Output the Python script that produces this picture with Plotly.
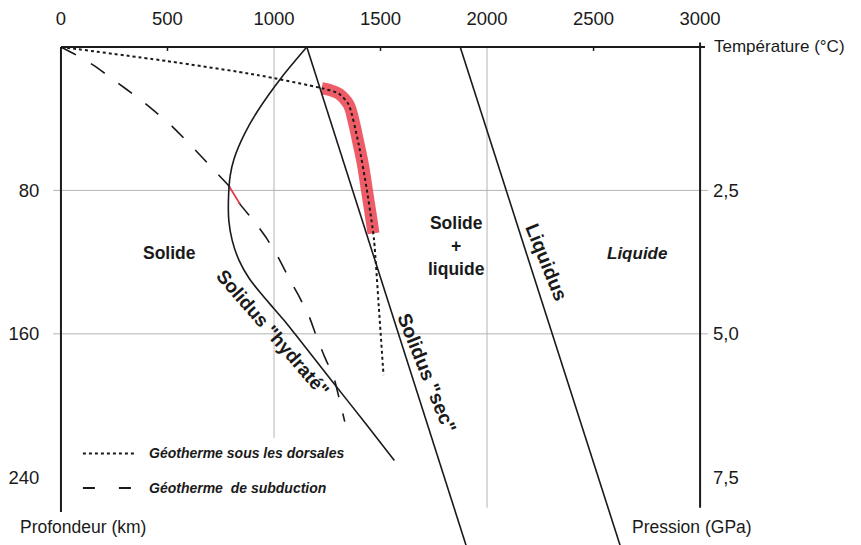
import plotly.graph_objects as go

# ---------------- data ----------------
temp_ticks = [0, 500, 1000, 1500, 2000, 2500, 3000]
temp_labels = ["0", "500", "1000", "1500", "2000", "2500", "3000"]
depth_ticks = [80, 160, 240]
depth_labels = ["80", "160", "240"]
pressure_labels = ["2,5", "5,0", "7,5"]

# Geotherm under ridges (dotted)
dorsal_T = [0, 500, 921, 1224, 1304, 1350, 1397, 1435, 1458, 1470, 1492, 1514]
dorsal_depth = [0, 7.9, 15.6, 23, 26, 32, 54, 79, 97, 108, 145, 183]

# Partial melting zone along the ridge geotherm (red)
melt_T = [1224, 1262, 1304, 1350, 1375, 1397, 1418, 1435, 1452, 1467]
melt_depth = [23, 24, 26, 32, 42, 54, 66, 79, 92, 104]

# Subduction geotherm (dashed)
sub_T = [0, 70, 150, 229, 304, 374, 453, 523, 593, 659, 724, 790, 841, 907,
         967, 1023, 1070, 1117, 1164, 1201, 1238, 1280, 1308, 1332]
sub_depth = [0, 4.4, 10, 16.7, 23.3, 29.4, 37.2, 44.4, 52.8, 61.1, 69.4, 77.8, 87.8, 97.2,
             107, 118, 129, 139, 150, 162, 173, 184, 197, 209]

# Melting point on subduction geotherm (red)
sub_melt_T = [790, 841]
sub_melt_depth = [77.8, 87.8]

# Hydrated solidus
hyd_T = [1154, 1037, 921, 860, 813, 794, 786, 788, 804, 836, 883, 935, 1000, 1051, 1098, 1270, 1430, 1565]
hyd_depth = [0, 16.7, 36.1, 48.9, 62.2, 72, 86, 97, 108, 119, 129, 137, 146, 153, 160, 186, 210, 230.6]

# Dry solidus
dry_T = [1154, 1907]
dry_depth = [0, 280]

# Liquidus
liq_T = [1874, 2630]
liq_depth = [0, 280]

FONT = "Liberation Sans, Arial, sans-serif"
INK = "#1a1a1a"
GRID = "#b4b4b4"

fig = go.Figure()

fig.add_trace(go.Scatter(x=melt_T, y=melt_depth, mode="lines",
                         line=dict(color="rgba(236,78,90,0.92)", width=12, shape="spline"),
                         hoverinfo="skip", showlegend=False))
fig.add_trace(go.Scatter(x=dorsal_T, y=dorsal_depth, mode="lines",
                         line=dict(color=INK, width=2, dash="3px,3px", shape="spline", smoothing=0.6),
                         hoverinfo="skip", showlegend=False))
fig.add_trace(go.Scatter(x=sub_T, y=sub_depth, mode="lines",
                         line=dict(color=INK, width=1.6, dash="17px,17px", shape="spline", smoothing=0.5),
                         hoverinfo="skip", showlegend=False))
fig.add_trace(go.Scatter(x=sub_melt_T, y=sub_melt_depth, mode="lines",
                         line=dict(color="#e8394a", width=1.8),
                         hoverinfo="skip", showlegend=False))
fig.add_trace(go.Scatter(x=hyd_T, y=hyd_depth, mode="lines",
                         line=dict(color=INK, width=1.6, shape="spline", smoothing=0.7),
                         hoverinfo="skip", showlegend=False))
fig.add_trace(go.Scatter(x=dry_T, y=dry_depth, mode="lines",
                         line=dict(color=INK, width=1.6),
                         hoverinfo="skip", showlegend=False))
fig.add_trace(go.Scatter(x=liq_T, y=liq_depth, mode="lines", yaxis="y2",
                         line=dict(color=INK, width=1.6),
                         hoverinfo="skip", showlegend=False))

shapes = []
# gridlines
for d in depth_ticks[:2]:
    shapes.append(dict(type="line", xref="x", yref="y", x0=-37, x1=3037, y0=d, y1=d,
                       line=dict(color=GRID, width=1), layer="below"))
shapes.append(dict(type="line", xref="x", yref="y", x0=1000, x1=1000, y0=0, y1=218,
                   line=dict(color=GRID, width=1), layer="below"))
shapes.append(dict(type="line", xref="x", yref="y", x0=2000, x1=2000, y0=0, y1=257,
                   line=dict(color=GRID, width=1), layer="below"))
# axis frame
shapes.append(dict(type="line", xref="x", yref="y", x0=0, x1=3023, y0=0, y1=0,
                   line=dict(color=INK, width=2)))
shapes.append(dict(type="line", xref="x", yref="y", x0=0, x1=0, y0=0, y1=259.4,
                   line=dict(color=INK, width=2)))
shapes.append(dict(type="line", xref="x", yref="y", x0=3000, x1=3000, y0=-2.5, y1=257,
                   line=dict(color=INK, width=2)))
for t in [500, 1500, 2500]:
    shapes.append(dict(type="line", xref="x", yref="y", x0=t, x1=t, y0=0, y1=2.2,
                       line=dict(color=INK, width=1.5)))
# legend samples
shapes.append(dict(type="line", xref="x", yref="y", x0=103, x1=350, y0=226.7, y1=226.7,
                   line=dict(color=INK, width=2, dash="3px,3px")))
shapes.append(dict(type="line", xref="x", yref="y", x0=103, x1=360, y0=246, y1=246,
                   line=dict(color=INK, width=1.8, dash="12px,24px")))

ann = []
def txt(x, y, s, size=17, angle=0, xanchor="center", yanchor="middle", xref="x"):
    ann.append(dict(x=x, y=y, xref=xref, yref="y", text=s, showarrow=False,
                    textangle=angle, xanchor=xanchor, yanchor=yanchor,
                    font=dict(family=FONT, size=size, color=INK)))

txt(3056, 0, "Température (°C)", size=17, xanchor="left")
txt(-0.052, 267.8, "Profondeur (km)", size=17.5, xanchor="left", xref="paper")
txt(2673, 267.8, "Pression (GPa)", size=17.5, xanchor="left")
txt(509, 115, "<b>Solide</b>", size=17.5)
txt(1855, 111, "<b>Solide<br>+<br>liquide</b>", size=17.5)
txt(2706, 115, "<b><i>Liquide</i></b>", size=17)
txt(2280, 120, "<b>Liquidus</b>", size=19.5, angle=68)
txt(1720, 181.7, "<b>Solidus \"sec\"</b>", size=19.5, angle=68)
txt(995, 160, "<b>Solidus \"hydraté\"</b>", size=19, angle=49)
txt(406, 226.7, "<b><i>Géotherme sous les dorsales</i></b>", size=14, xanchor="left")
txt(406, 246, "<b><i>Géotherme\u00a0 de subduction</i></b>", size=14, xanchor="left")

yr = [277.78, -2.78]
fig.update_layout(
    width=853, height=537, autosize=False,
    margin=dict(l=42, r=141, t=32, b=0, pad=0),
    paper_bgcolor="white", plot_bgcolor="white",
    font=dict(family=FONT, size=18, color=INK),
    xaxis=dict(range=[-37.38, 3093.5], side="top", tickvals=temp_ticks, ticktext=temp_labels,
               showgrid=False, zeroline=False, showline=False,
               ticks="outside", ticklen=9, tickcolor="white",
               tickfont=dict(family=FONT, size=18.5, color=INK)),
    yaxis=dict(range=yr, tickvals=depth_ticks, ticktext=depth_labels,
               showgrid=False, zeroline=False, showline=False,
               ticks="outside", ticklen=9, tickcolor="white",
               tickfont=dict(family=FONT, size=18.5, color=INK)),
    yaxis2=dict(range=yr, overlaying="y", side="right", anchor="free", position=0.988,
                tickvals=depth_ticks, ticktext=pressure_labels,
                showgrid=False, zeroline=False, showline=False, ticks="",
                tickfont=dict(family=FONT, size=18.5, color=INK)),
    shapes=shapes, annotations=ann, showlegend=False,
)

fig.write_html("out.html")
